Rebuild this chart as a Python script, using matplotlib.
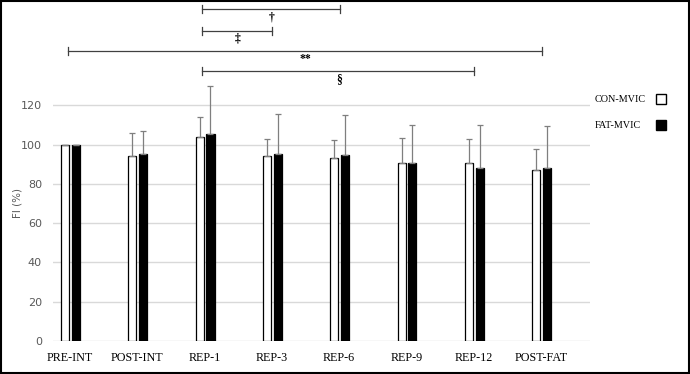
import matplotlib.pyplot as plt
from matplotlib.patches import Rectangle
import numpy as np

categories = ['PRE-INT', 'POST-INT', 'REP-1', 'REP-3', 'REP-6', 'REP-9', 'REP-12', 'POST-FAT']
con_mvic = [100, 94.3, 104.0, 94.0, 93.0, 90.8, 90.8, 87.0]
con_sd = [0, 11.7, 10.2, 9.0, 9.2, 12.4, 11.9, 10.9]
fat_mvic = [100, 95.2, 105.2, 95.2, 94.5, 90.8, 88.2, 88.2]
fat_sd = [0, 11.7, 24.8, 20.5, 20.5, 19.0, 21.6, 21.1]
y_ticks = [0, 20, 40, 60, 80, 100, 120]

# significance brackets: (start index, end index, level, symbol)
brackets = [(2, 4, 169, '†'), (2, 3, 157.8, '‡'), (0, 7, 147.7, '**'), (2, 6, 137.5, '§')]

W, H = 690, 374
fig = plt.figure(figsize=(W / 100, H / 100), dpi=100)
ax = fig.add_axes([53 / W, 33 / H, 537 / W, 341 / H])

x = np.arange(len(categories))
bw = 0.12
n = len(categories)
ax.bar(x - 0.07, con_mvic, bw, color='white', edgecolor='black', linewidth=0.9, zorder=3)
ax.bar(x + 0.09, fat_mvic, bw, color='black', edgecolor='black', linewidth=0.9, zorder=3)
ax.errorbar(x - 0.07, con_mvic, yerr=[[0] * n, con_sd], fmt='none', ecolor='#7f7f7f',
            elinewidth=0.9, capsize=2.2, capthick=0.9, zorder=4)
ax.errorbar(x + 0.09, fat_mvic, yerr=[[0] * n, fat_sd], fmt='none', ecolor='#7f7f7f',
            elinewidth=0.9, capsize=2.2, capthick=0.9, zorder=4)

ax.set_xlim(-0.25, 7.73)
ax.set_ylim(0, 173.6)
ax.set_yticks(y_ticks)
ax.set_xticks(x)
ax.set_xticklabels(categories, family='Liberation Serif', fontsize=8.7, color='black')
ax.tick_params(axis='y', length=0, labelsize=8, labelcolor='#595959', pad=8)
ax.tick_params(axis='x', length=0, pad=8)
for s in ax.spines.values():
    s.set_visible(False)
for t in y_ticks:
    ax.axhline(t, color='#d9d9d9', lw=1, zorder=1)

fig.text(17 / W, 1 - 203 / H, 'FI (%)', rotation=90, ha='center', va='center',
         fontsize=7.5, color='#595959')

for i0, i1, lev, sym in brackets:
    ax.plot([i0 - 0.03, i1 + 0.01], [lev, lev], color='#404040', lw=0.9, clip_on=False)
    for xx in (i0 - 0.03, i1 + 0.01):
        ax.plot([xx, xx], [lev - 2.2, lev + 2.2], color='#404040', lw=0.9, clip_on=False)
    ax.text((i0 + i1) / 2, lev - 1, sym, ha='center', va='top', family='Liberation Serif',
            fontsize=8.5, fontweight='bold', clip_on=False)

# legend
fig.text(595 / W, 1 - 99 / H, 'CON-MVIC', family='Liberation Serif', fontsize=7.3, va='center')
fig.text(595 / W, 1 - 125 / H, 'FAT-MVIC', family='Liberation Serif', fontsize=7.3, va='center')
fig.patches.append(Rectangle((656 / W, 1 - 104 / H), 10 / W, 10 / H, transform=fig.transFigure,
                             facecolor='white', edgecolor='black', lw=1))
fig.patches.append(Rectangle((656 / W, 1 - 130 / H), 10 / W, 10 / H, transform=fig.transFigure,
                             facecolor='black', edgecolor='black', lw=1))

# outer frame
fig.patches.append(Rectangle((1 / W, 1 / H), (W - 2) / W, (H - 2) / H, transform=fig.transFigure,
                             facecolor='none', edgecolor='black', lw=1.5))

fig.savefig('out.png', dpi=100)
